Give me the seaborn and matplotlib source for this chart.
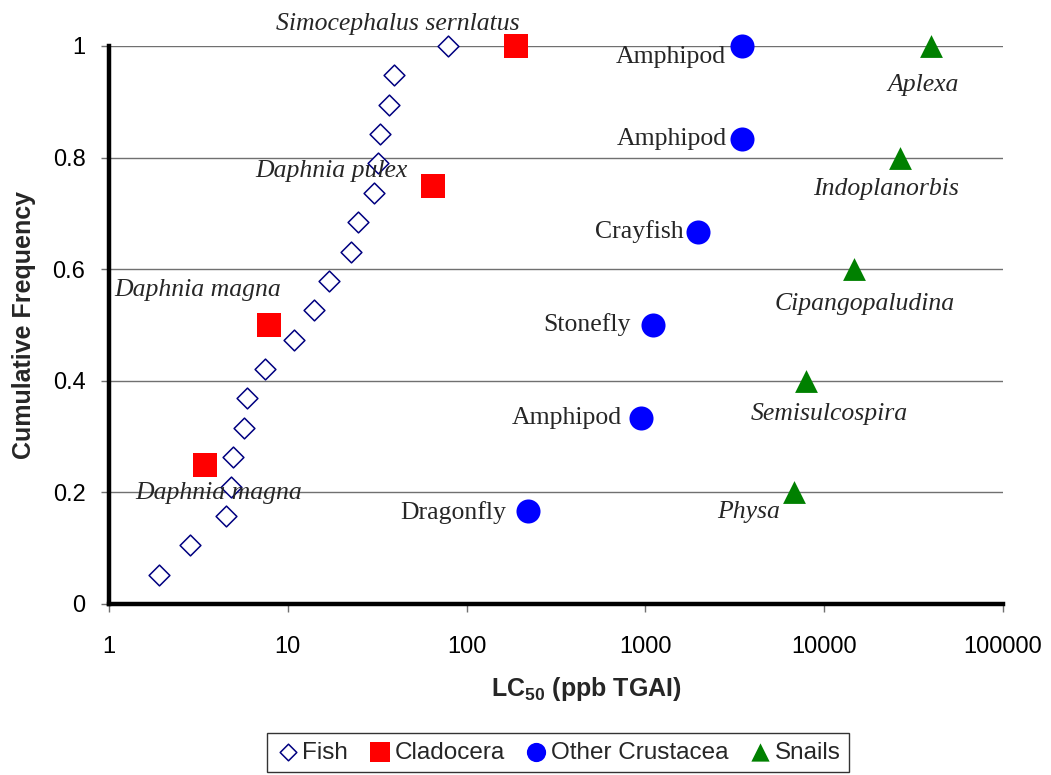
import matplotlib
matplotlib.use("Agg")
import matplotlib.pyplot as plt
import seaborn as sns
import pandas as pd

# ---- data ----
fish_lc50 = [1.9, 2.85, 4.5, 4.8, 4.95, 5.7, 5.9, 7.45, 10.8, 14.0, 16.9, 22.5,
             24.6, 30.2, 31.8, 32.7, 36.7, 39.1, 79.0]
fish_freq = [i / 19 for i in range(1, 20)]

clad_lc50 = [3.45, 7.85, 64.5, 188]
clad_freq = [0.25, 0.5, 0.75, 1.0]
clad_names = ["Daphnia magna", "Daphnia magna", "Daphnia pulex", "Simocephalus sernlatus"]

crus_lc50 = [220, 940, 1100, 1980, 3480, 3480]
crus_freq = [1 / 6, 2 / 6, 3 / 6, 4 / 6, 5 / 6, 1.0]
crus_names = ["Dragonfly", "Amphipod", "Stonefly", "Crayfish", "Amphipod", "Amphipod"]

snail_lc50 = [6800, 7950, 14700, 26600, 39600]
snail_freq = [0.2, 0.4, 0.6, 0.8, 1.0]
snail_names = ["Physa", "Semisulcospira", "Cipangopaludina", "Indoplanorbis", "Aplexa"]

x_ticks = [1, 10, 100, 1000, 10000, 100000]
x_tick_labels = ["1", "10", "100", "1000", "10000", "100000"]
y_ticks = [0, 0.2, 0.4, 0.6, 0.8, 1.0]
y_tick_labels = ["0", "0.2", "0.4", "0.6", "0.8", "1"]

# label offsets in pixels (annotation placement)
clad_offsets = [(14, -29), (-71, 35), (-101, 14), (-118, 22)]
crus_offsets = [(-22, -2), (-19, 0), (-22, 0), (-15, 0), (-15, 0), (-16, -11)]
snail_offsets = [(-46, -20), (23, -33), (11, -35), (-14, -31), (-8, -39)]

sns.set_theme(style="white")
plt.rcParams["font.family"] = ["Liberation Sans", "DejaVu Sans"]
plt.rcParams["mathtext.fontset"] = "custom"
plt.rcParams["mathtext.rm"] = "Liberation Sans"
plt.rcParams["mathtext.bf"] = "Liberation Sans:bold"

fig = plt.figure(figsize=(10.51, 7.75), dpi=100)
ax = fig.add_axes([109 / 1051, 1 - 604 / 775, (1003 - 109) / 1051, (604 - 46) / 775])

fish = pd.DataFrame({"x": fish_lc50, "y": fish_freq})
clad = pd.DataFrame({"x": clad_lc50, "y": clad_freq})
crus = pd.DataFrame({"x": crus_lc50, "y": crus_freq})
snail = pd.DataFrame({"x": snail_lc50, "y": snail_freq})

sns.scatterplot(data=fish, x="x", y="y", ax=ax, marker="D", s=112,
                facecolor="white", edgecolor="#000080", linewidth=1.1,
                label="Fish", clip_on=False, zorder=3)
sns.scatterplot(data=clad, x="x", y="y", ax=ax, marker="s", s=320,
                color="#FF0000", edgecolor="#FF0000", linewidth=0,
                label="Cladocera", clip_on=False, zorder=3)
sns.scatterplot(data=crus, x="x", y="y", ax=ax, marker="o", s=300,
                color="#0000FF", edgecolor="#0000FF", linewidth=0,
                label="Other Crustacea", clip_on=False, zorder=3)
sns.scatterplot(data=snail, x="x", y="y", ax=ax, marker="^", s=270,
                color="#008000", edgecolor="#008000", linewidth=0,
                label="Snails", clip_on=False, zorder=3)

ax.set_xscale("log")
ax.set_xlim(1, 100000)
ax.set_ylim(0, 1)
ax.set_xticks(x_ticks)
ax.set_xticklabels(x_tick_labels)
ax.xaxis.set_minor_locator(matplotlib.ticker.NullLocator())
ax.set_yticks(y_ticks)
ax.set_yticklabels(y_tick_labels)

ax.yaxis.grid(True, color="#707070", linewidth=1.0)
ax.xaxis.grid(False)
ax.set_axisbelow(True)

for side in ["top", "right"]:
    ax.spines[side].set_visible(False)
for side in ["left", "bottom"]:
    ax.spines[side].set_linewidth(3.2)
    ax.spines[side].set_color("black")
    ax.spines[side].set_zorder(4)

ax.tick_params(axis="both", which="major", direction="out", length=6, width=1,
               color="#707070", labelsize=17, labelcolor="black",
               left=True, bottom=True)
ax.tick_params(axis="x", pad=17)
ax.tick_params(axis="y", pad=11)

ax.set_xlabel(r"LC$_{\mathbf{50}}$ (ppb TGAI)", fontsize=18, fontweight="bold")
ax.xaxis.set_label_coords((586 - 109) / 894, -(689 - 604) / 558)
ax.xaxis.label.set_va("center")
ax.set_ylabel("Cumulative Frequency", fontsize=18, fontweight="bold")
ax.yaxis.set_label_coords(-(109 - 24) / 894, 0.5)
ax.yaxis.label.set_va("center")

serif = ["Liberation Serif", "DejaVu Serif"]
for xv, yv, name, (dx, dy) in zip(clad_lc50, clad_freq, clad_names, clad_offsets):
    ax.annotate(name, (xv, yv), xytext=(dx, dy), textcoords="offset pixels",
                ha="center", va="center", fontsize=18.5, style="italic", family=serif)
for xv, yv, name, (dx, dy) in zip(crus_lc50, crus_freq, crus_names, crus_offsets):
    ax.annotate(name, (xv, yv), xytext=(dx, dy), textcoords="offset pixels",
                ha="right", va="center", fontsize=18.5, family=serif)
for xv, yv, name, (dx, dy) in zip(snail_lc50, snail_freq, snail_names, snail_offsets):
    ax.annotate(name, (xv, yv), xytext=(dx, dy), textcoords="offset pixels",
                ha="center", va="center", fontsize=18.5, style="italic", family=serif)

leg = ax.legend(loc="upper center", bbox_to_anchor=(0.531, 1 - 733 / 775),
                bbox_transform=fig.transFigure, ncol=4, frameon=True, fancybox=False,
                fontsize=17.5, handletextpad=0.1, columnspacing=0.8, borderpad=0.35,
                borderaxespad=0.0, markerscale=0.8, handlelength=1.0)
leg.get_frame().set_edgecolor("black")
leg.get_frame().set_linewidth(1.0)

fig.savefig("out.png", dpi=100)
